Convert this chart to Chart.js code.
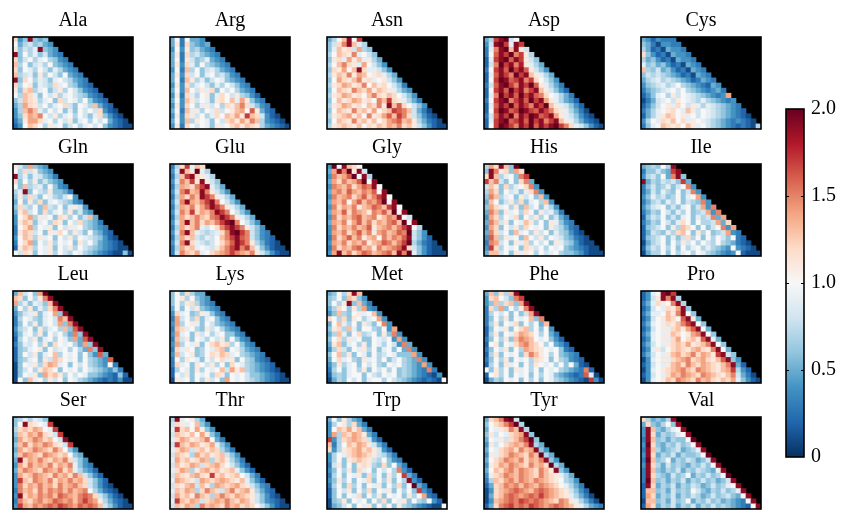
<!DOCTYPE html>
<html>
<head>
<meta charset="utf-8">
<script src="https://cdn.jsdelivr.net/npm/chart.js@4.4.0/dist/chart.umd.min.js"></script>
<style>
  body { margin: 0; background: #fff; width: 842px; height: 511px; position: relative; overflow: hidden; }
  .panel { position: absolute; }
</style>
</head>
<body>
<script>
// Each panel is a triangular matrix: row r (top = 0) holds 7 + r cells.
// One character per cell, value = index in CODE / 10  ('0' = 0, 'a' = 1.0, 'k' = 2.0)
const CODE = '0123456789abcdefghijk';

const residues = ['Ala', 'Arg', 'Asn', 'Asp', 'Cys', 'Gln', 'Glu', 'Gly', 'His', 'Ile',
                  'Leu', 'Lys', 'Met', 'Phe', 'Pro', 'Ser', 'Thr', 'Trp', 'Tyr', 'Val'];

const ala = ['c46j656', 'a5786754', 'b6879j654', 'j6a7968543', 'c68a79a7643', 'd7a6897a6543',
  'c6a97a8697543', 'd7896b7a86a543', 'j6ca79869a87543', 'c7ab6987c9a76432', 'b6cd79a68b7a86432',
  'a7dc96a8b79a876432', '68dcb79a6c8a97a6432', '57ecb8a79ac86a97d532', '47dfd97a8a696a8a8c421',
  '46cedfa8b79a7a869c6421', '35beec9a7a8b69a7a8a5321', '24adca7b9a68a79a8a643211'];
const arg = ['5a3a554', '5b3c6545', '4a4b67543', '5b3c786543', '5a3b8679543', '5b4c96a76543',
  '4a3d7a6897543', '5b4c8a69a78643', '5a3db7968a96543', '4b4c79a8697a8643', '5a4da8b9c6a8a7543',
  '4b3c97ab69ca8b7642', '5a4db8a96bcad9eb643', '4b4ca79b8a7cbdfc8643', '5a3d9b7a9c8abdeagb532',
  '4b4cb8a79cadcebhdc8421', '5a4d7ba96a8cdbecfd74321', '4b3ca8a96b9acdbdcb754321'];
const asn = ['57adjah', '68cfjd97', '69dbc8e76', '7adcbf9a86', '6bc9ebd9b75', '7adfcb9ea864',
  '6cbeadjc99864', '7bdcfbedabc975', '6aecbdfbc9ab864', '7bcedbcfadbca863', '6adcbfdcebdcb9754',
  '7bcedbcadfcbdca864', '6adbcedbcafdhcb9753', '7bcedbcadcfbjdgca864', '6adcbfcdbeacdhgfd8531',
  '7bcdebdafbcegdhfc86421', '6adcbfcdbdacefgdeb75321', '7bcdcbdacbdcedfcdb864211'];
const asp = ['57hjk8a', '48jkh9jh', '39fjkdjb8', '3agjhkfhb7', '29hjkgjhb86', '28fkhjfib975',
  '3ahjgkhjgb864', '29gjhfkhjdb975', '2ahkjghjfhca864', '38gjkhfjhkgb9753', '2ahjgkhjfhjdb8642',
  '29fkhjgkhjgfca9753', '3ahjkfhjgkhjeb97542', '29gjhkgjhfjhkdb98642', '2ahkjghkjhgjhfcb97531',
  '38gjhkfjhkjghjeb986421', '29hjkghjgkhjfhjdb975321', '2ahkjhfjhkgjhjkhfc986421'];
const cys = ['5424333', '65314433', '752315443', 'c642315443', '75642315443', '967564231543',
  'd768564231543', '68787654231543', '578978765423543', '4678978a76543254', '356789a8a76543453',
  '2469a7b8a98765434e', '13589a8ba9879765434', '2468ab9ca8b979876543', '3579abca9db8a98765432',
  '2579bdcab9a8a987654321', '47a9cbdac9ba98765434321', '369adcbcadb9a87654323217'];
const gln = ['b86e654', 'a7c8b654', 'j79698653', 'c6a7b68654', 'a6d7896a643', '79j6a87b6653',
  '6b7c86a9768a4', '5a6b7c69a87643', '6c87a6d87a69b84', '5bd8a6c79a7b6854', '4ace7b9a6cb7a68d5',
  '4bdc69a7cb6a8c7653', '3ace7a9b6a8b9a76543', '3bdc8a6b9ca7b86a6532', '4adc7b9a6a8b7a9876421',
  '3ace6a8b7a9a6b8a754321', '2bdc7a9b6a8b7a876543211', 'a8cb6a9b7a87a97654321161'];
const glu = ['37ch9dc', '48jdbk97', '37dhjcb97', '48fdhbjb86', '37edcfhj975', '48fhdejfb864',
  '37ecfdjhfb975', '48fjedfhjfa864', '37edfcegjhfb975', '48fdhcedfjhfa864', '37ecdfdcfgjhfb975',
  '48ejdfcedfhjkfa864', '37ecdf98acfhjhfb864', '48fjd98789cfjkhf8643', '37ecd8798adfhjgf86432',
  '48fjc9878acegjhfb75321', '37ecd9a98bdfhjfhd964211', '38fdce9acdefhfedfb864211'];
const gly = ['4kajdca', '5ejfkbj8', '4fdegkaj7', '5ecfdegkaj', '4fedfcegfja', '5efdgedfegaj',
  '4fdefcegdfhja', '5edfaegdfegkaj', '4fcedfbdegfdhja', '5edgcfedbfegdkaj', '4fcedfgdefbdfeja8',
  '5edfbegdfcedfgdkaj', '4fcedfdegbdefdfhja7', '4edfcegdfbefdegfk864', '3fcegdfbdeafdfegj8642',
  '4edfcedfbdegfdfhk75321', '3fcedfgdebfdefgjc864211', '4ejdfcegfdefgdjfk9642111'];
const his = ['7ecjd6k', '6jfbc6ec', 'cjd79a6fh', 'hdf86a6cf5', '8db6c79acf4', '7ec6a8969cf4',
  '6fd79a6b8a6d4', '5da68b7c69a7d4', '6ec9a7b6d8a6974', '5fd6b9a7ca6b8963', '4ec7a9c6a8b7a6853',
  '5fd8b6a9db7a6b9643', '4ec6a8b7ca9a6b87532', '5fc8a6d9a7b8a6976421', '4gd7b9a6da8b7a9865321',
  '3fe8a6b9c7a8a6b9764211', '4hc7a9a6cb8a7a9a6543211', '5dd8a6b9ba7a89a766542111'];
const ile = ['5676a7j', '366865hj', '4786a5fj6', 'j5768786h5', '36867968af4', '3586976a68f4',
  '4697867a69ae4', '3578697a6876f4', '4689a6869a68e4f', '3576a8697a678e4f', '2687a6869a6978f5e',
  '3576a869ca6a778e5c', '2678a6b7dca6a68af4e', '2587697cda6b7a678e43', '2678a6968c7a6a7a86a32',
  '1578a6a7b8a7a87a765321', '2687a7a6a79a797654a4321', '1577a6a79a7a9765434a2111'];
const leu = ['5d8a6ek', 'dc6a7bfj', 'e796986dj', '5a7b697cfj', '4689b69ae6j', '37a9769a8fdj',
  '36a7b69a8e6fj', '478a6b79a7d6gj', '369a7b6a8a75f6j', '27a8b69a7a96e5gj', '3698a7b6ca9a75e6j',
  '2679ab6a89a7a75f6j', '26a8b69ad7a9a6a64g5', '2679a6b8dca9a6a7654g', '16a9b7ced9a6a8a7654a3',
  '168a7bdca6a9a7a8765463', '16a9b6ecdb7a8a966543262', '1a6d9a7b8a6a976543232411'];
const lys = ['6a6c755', '6ab7a654', '6a7bc7543', '5a6a8b6543', '4c9a67b9643', '3e8a7c69a643',
  '4e7ab96a86543', '3dc9a76b8a7543', '4e9a6b8a79a6643', '3d8b6a97a8b6a643', '4e7a9b6acdbc7a643',
  '3c9ba67a9cd6a97543', '4d8ab67acbdc9a76543', '3a7ba96a8ac9b6a76432', '3c9a6ba8b7a6ca9765432',
  '27a96b7a9ad8ebd7654321', '2a8b6a9a7cb6a9a86654321', '1b9a6a7b8a6ea9a876543211'];
const met = ['56a7cjd', '67a6dc64', '6a7bj6d53', '57ca6b7e43', '46d76ab9ad4', 'ca7c6ba79ae4',
  '5ad97a6b86af4', '6bc7d96aa76a4e', '57d96ac78a6b6f4', '6ac7b9a66a98a4e4', '5bd69a7b6a97a84f5',
  '47c86a9b7a69a6a5f4', '6ad7b6a96a78a9666e4', '5ac9a76b9a7a68a765f4', '46b79a6a8a76a9a7654e4',
  '37a69a7b6a8a7a676543f3', '26769aa6a87a9a676543214', '1576a8a69aa7a8765432321a'];
const phe = ['5d6c7dj', '4cda86fh', '46d7cd6ej', '3c7e6a7bfj', '37a8a6a68ej', '36a7b6a9ad6f',
  '37b6a9c6a7a5d', '26a9b6acd7a6a4', '27b6a9cedca7a53', '36a7b6dfeda9a642', '2ab6a9cefdca7a542',
  '36a8b6a7edcba9a632', '27b6a9a6cfdba7a6543', '36a7b6a9a7cba6a76432', '27a6b9a6a7ba9a7a6a521',
  'a6b7a6b9a7a6a9a76543f2', '2ab7a6a9a6a7a9654323g91', '1576a9a6a7a6a97654321h41'];
const pro = ['249ajkh', '248bjfj7', '359cbafj7', '248a9cbej6', '3599adbfja6', '248abdcagjb5',
  '359a9cbdfhja6', '248ab9cdbegja5', '359a9bdcabefja6', '249ab9ceacdbgj95', '358a9bcdcebcdfja6',
  '249b8acdcbdecbfja5', '358a9bdecdfcedbhj86', '149ab9cdefcdecbdgj64', '248a9bdecfdcedcbdfj52',
  '149abcdefdcfedcbdeh742', '248a9cedfedcfedcbdf8531', '149abdcfedcfdecbdce96421'];
const ser = ['6797986', '6ajcba9h', '7cdceda9h', '6dcedfcb8h', '5ecdfecda8j', '6dfcedfecb8h',
  '5ecdfedcfda64', '6dfedcfedcda65', '5jcedfdcedfc864', '4ecfdedfcedf9643', '5dfedcfedfce97542',
  '4ecdfedcfdecfd8642', '4hdcfedfcedfdec8642', '4fcedfdecfdefdc86421', '3fdecfdfefdfdefa75321',
  '4jcedfefdgfedfgfc86421', '3fdcefdegfefdfhfeb75321', '4hedfefgfhgfegfgfd864211'];
const thr = ['7j9ab75', '8cb9ad64', '9hcdaeb64', '8dcbdaeb64', '9cedbcdfa53', '8hdcedbce964',
  '9ced8cdbdc753', '8dcb7ecdbcd864', '9ecdbced7cdb753', '8dbced8cdeca8642', '9ced7bdecdbcd9642',
  '8dcbdecbhcdbcda853', '9edcb8edcdedcbd9642', '8cbde8db7edcdecb8643', '9dced7cfdc8dfcdeb7532',
  '8ecdbfdc7dfdcedcb86421', '9hdced8cdedfdcedb864321', '8dced7fdedcfdecdca864211'];
const trp = ['5a6b754', '47ab7c53', '4adcebd53', '4e7dcedb53', 'h47cdedc842', 'd37adcedb853',
  'c47bcdecdb842', '47a9cdedcb8753', '47a6bcdcb87a643', '38b6a6bcb76c6a53', '46a7b6c9a6a8a7f42',
  '37a6a9b6c7a6b7ah53', '46b7a6a9c6a7b6a7j42', '37a6c7a6a9b6a7c6ak53', '26a8b6a7c6a9b6a7a6h42',
  '26a6a9c6a7b6a9a6b7ae32', '167b6a9a6a7c6a9b6a76a42', '1568a6a9b6a7a6b76543211a'];
const tyr = ['5cdfjk8', '6acdfhk7', '5a9bcfdj7', '6b8a9cdej6', '5a9b8cdfhk6', '4b8acdedfj75',
  '5a9cdecfdej64', '4b9cdfedcfdk75', '5acdfedfcedfj64', '4bcedfedcfdeck75', '5adcefdfedcfdbj64',
  '4bcdfedfedcfdcb975', '37dcefdfedfedcba764', '25cdfefdfedfedca9753', '14cdefgfedfgfedcb8642',
  '15cdfgfefgfhfedcb97531', '14defgfhgfgfedcfeb97531', '25cfghfgfhgfefgfedb97543'];
const val = ['c75657j', '5c657a6j', '4jd6579aj', '4jc57679aj', '3jd675766ak', '4kc6576867aj',
  '3jd756785679j', '4jc576857667ak', '3kd67a57687568j', '4jc75867657686aj', '3jd6576857687659j',
  '3jc765867a576867ak', '3kd675768576867568j', '2jc576857687568679aj', '2dd6758676a865768679j',
  '2ec57685768756867865aj', '1dd675867a57686756543aj', '2ec5768576857686765432aj'];

const panels = [ala, arg, asn, asp, cys, gln, glu, gly, his, ile,
                leu, lys, met, phe, pro, ser, thr, trp, tyr, val];

const colorbarTicks = ['0', '0.5', '1.0', '1.5', '2.0'];

// RdBu reversed, 0 -> 2
const rdbu = ['#053061', '#2166ac', '#4393c3', '#92c5de', '#d1e5f0', '#f7f7f7',
              '#fddbc7', '#f4a582', '#d6604d', '#b2182b', '#67001f'];

const NCOLS = 24;
const NROWS = 18;
const FONT = "'Liberation Serif', 'DejaVu Serif', serif";

function hexToRgb(h) {
    return [parseInt(h.slice(1, 3), 16), parseInt(h.slice(3, 5), 16), parseInt(h.slice(5, 7), 16)];
}

function colorFor(v) {
    const t = Math.max(0, Math.min(1, v / 2)) * (rdbu.length - 1);
    const i = Math.min(Math.floor(t), rdbu.length - 2);
    const f = t - i;
    const a = hexToRgb(rdbu[i]);
    const b = hexToRgb(rdbu[i + 1]);
    const c = a.map((x, k) => Math.round(x + (b[k] - x) * f));
    return `rgb(${c[0]},${c[1]},${c[2]})`;
}

// black plot area + frame (+ inner ticks for the colour bar)
const panelFrame = {
    id: 'panelFrame',
    beforeDatasetsDraw(chart, args, opts) {
        if (!opts.fill) return;
        const { ctx, chartArea: a } = chart;
        ctx.save();
        ctx.fillStyle = opts.fill;
        ctx.fillRect(a.left, a.top, a.width, a.height);
        ctx.restore();
    },
    afterDraw(chart, args, opts) {
        const { ctx, chartArea: a } = chart;
        ctx.save();
        if (opts.ticks) {
            const y = chart.scales.y;
            ctx.strokeStyle = '#000';
            ctx.lineWidth = 1;
            opts.ticks.forEach(v => {
                const py = Math.round(y.getPixelForValue(v)) + 0.5;
                ctx.beginPath();
                ctx.moveTo(a.left, py); ctx.lineTo(a.left + 3, py);
                ctx.moveTo(a.right - 3, py); ctx.lineTo(a.right, py);
                ctx.stroke();
            });
        }
        ctx.strokeStyle = '#000';
        ctx.lineWidth = 1.6;
        ctx.strokeRect(a.left, a.top, a.width, a.height);
        ctx.restore();
    }
};

const panelX = [13, 170, 327, 484, 641];
const panelY = [36.7, 163.6, 290.5, 417.4];
const PW = 120, PH = 92, TITLE_H = 32;

function makeCanvas(left, top, w, h) {
    const div = document.createElement('div');
    div.className = 'panel';
    div.style.left = left + 'px';
    div.style.top = top + 'px';
    div.style.width = w + 'px';
    div.style.height = h + 'px';
    const canvas = document.createElement('canvas');
    canvas.width = w;
    canvas.height = h;
    canvas.style.width = w + 'px';
    canvas.style.height = h + 'px';
    div.appendChild(canvas);
    document.body.appendChild(div);
    return canvas;
}

function drawPanel(name, rows, idx) {
    const col = idx % 5, row = Math.floor(idx / 5);
    const canvas = makeCanvas(panelX[col] - 2, panelY[row] - TITLE_H, PW + 4, TITLE_H + PH + 2);

    const labels = [];
    for (let c = 0; c < NCOLS; c++) labels.push(String(c));

    // stacked bars: bottom matrix row first
    const datasets = [];
    for (let r = NROWS - 1; r >= 0; r--) {
        const cells = rows[r] || '';
        datasets.push({
            data: labels.map((_, c) => c < cells.length ? 1 : null),
            backgroundColor: labels.map((_, c) =>
                c < cells.length ? colorFor(CODE.indexOf(cells[c]) / 10) : 'rgba(0,0,0,0)'),
            borderWidth: 0,
            barPercentage: 1,
            categoryPercentage: 1
        });
    }

    new Chart(canvas, {
        type: 'bar',
        data: { labels, datasets },
        options: {
            responsive: false,
            animation: false,
            events: [],
            layout: { padding: { left: 2, right: 2, top: 0, bottom: 2 } },
            scales: {
                x: { stacked: true, display: false },
                y: { stacked: true, display: false, min: 0, max: NROWS }
            },
            plugins: {
                legend: { display: false },
                tooltip: { enabled: false },
                title: {
                    display: true,
                    text: name,
                    color: '#000',
                    font: { family: FONT, size: 20, weight: 'normal', lineHeight: 1.2 },
                    padding: { top: 4, bottom: 4 }
                },
                panelFrame: { fill: '#000' }
            }
        },
        plugins: [panelFrame]
    });
}

function drawColorbar() {
    // canvas placed so the bar itself spans y 109 .. 457
    const canvas = makeCanvas(784, 90, 56, 386);
    new Chart(canvas, {
        type: 'bar',
        data: {
            labels: ['scale'],
            datasets: [{
                data: [[0, 2]],
                borderWidth: 0,
                barPercentage: 1,
                categoryPercentage: 1,
                backgroundColor(ctx) {
                    const chart = ctx.chart;
                    if (!chart.chartArea) return rdbu[5];
                    const y = chart.scales.y;
                    const g = chart.ctx.createLinearGradient(0, y.getPixelForValue(0), 0, y.getPixelForValue(2));
                    rdbu.forEach((c, i) => g.addColorStop(i / (rdbu.length - 1), c));
                    return g;
                }
            }]
        },
        options: {
            responsive: false,
            animation: false,
            events: [],
            layout: { padding: { left: 2, right: 0, top: 12, bottom: 12 } },
            scales: {
                x: { display: false },
                y: {
                    position: 'right',
                    min: 0,
                    max: 2,
                    grid: { display: false, drawTicks: false },
                    border: { display: false },
                    afterFit(scale) { scale.width = 36; },
                    ticks: {
                        stepSize: 0.5,
                        padding: 7,
                        color: '#000',
                        font: { family: FONT, size: 20 },
                        callback: v => colorbarTicks[Math.round(v * 2)]
                    }
                }
            },
            plugins: {
                legend: { display: false },
                tooltip: { enabled: false },
                panelFrame: { fill: null, ticks: [0.5, 1, 1.5] }
            }
        },
        plugins: [panelFrame]
    });
}

residues.forEach((name, i) => drawPanel(name, panels[i], i));
drawColorbar();
</script>
</body>
</html>
